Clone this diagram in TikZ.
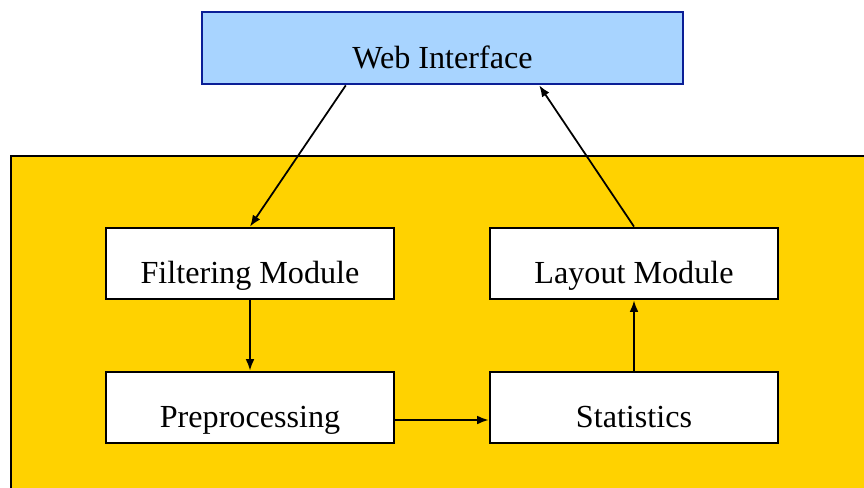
\documentclass[tikz,border=0pt]{standalone}
\usepackage{fontspec}
\setmainfont{Liberation Serif}
\usetikzlibrary{calc,arrows.meta}
\definecolor{webblue}{RGB}{168,212,255}
\definecolor{webedge}{RGB}{10,30,150}
\definecolor{panelyellow}{RGB}{255,210,0}
\tikzset{
  boxtext/.style={font=\fontsize{18.3}{22}\selectfont,text height=23pt,text depth=0pt,inner sep=0pt},
  module/.style={boxtext,draw=black,line width=1.6pt,fill=white,minimum width=5.76cm,minimum height=1.42cm},
  link/.style={-{Latex[length=6.5pt,width=5pt]},line width=1pt}
}
\begin{document}
\begin{tikzpicture}[x=0.02cm,y=-0.02cm]
        \useasboundingbox (0,0) rectangle (864,487);
        \clip (0,0) rectangle (864,487);
        % yellow panel
        \draw[line width=1.6pt,fill=panelyellow] (11,156) rectangle (900,520);
        % top box
        \node[boxtext,draw=webedge,line width=1.6pt,fill=webblue,minimum width=9.62cm,minimum height=1.44cm] (web) at (442.5,48) {Web Interface};
        % modules
        \node[module] (filter) at (250,263.5) {Filtering Module};
        \node[module] (layout) at (634,263.5) {Layout Module};
        \node[module] (prep) at (250,407.5) {Preprocessing};
        \node[module] (stats) at (634,407.5) {Statistics};
        % connectors
        \draw[link] ($(web.south west)!0.3!(web.south east)$) -- (filter.north);
        \draw[link] (filter) -- (prep);
        \draw[link] ($(prep.east)+(0,12.5)$) -- ($(stats.west)+(0,12.5)$);
        \draw[link] (stats) -- (layout);
        \draw[link] (layout.north) -- ($(web.south west)!0.7!(web.south east)$);
\end{tikzpicture}
\end{document}
